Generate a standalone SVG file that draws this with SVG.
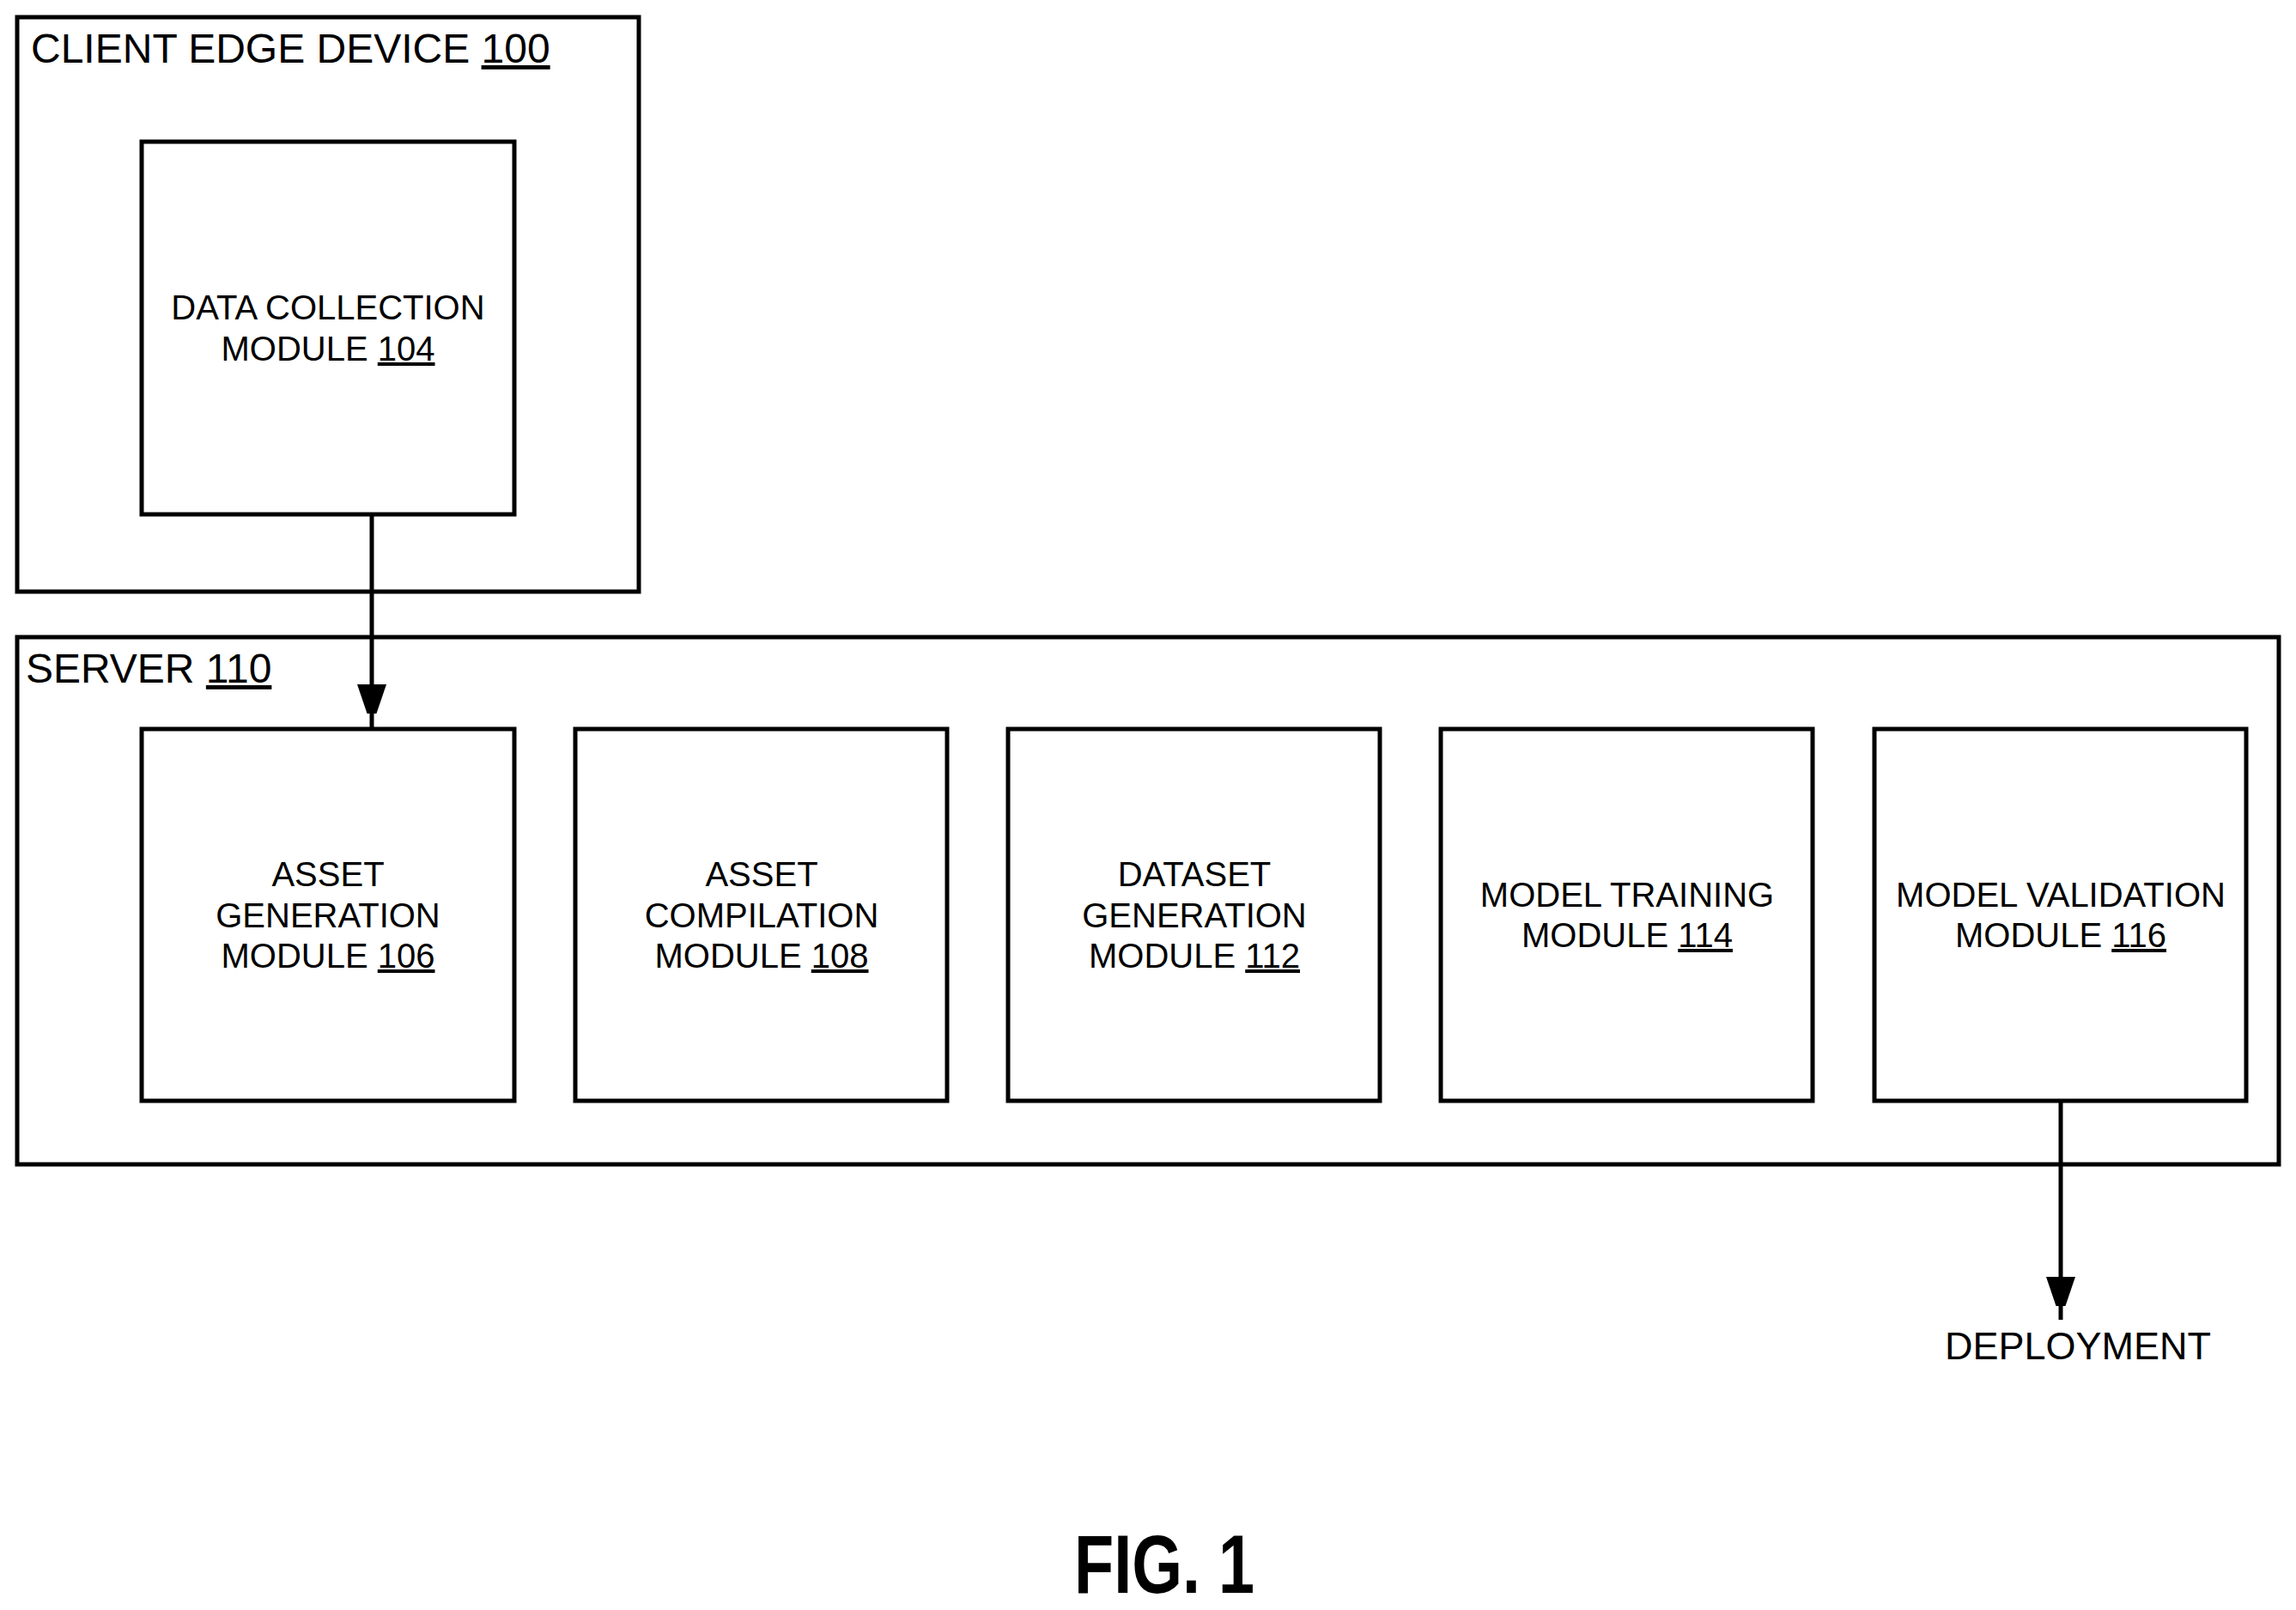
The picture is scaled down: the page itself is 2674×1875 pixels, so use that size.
<svg xmlns="http://www.w3.org/2000/svg" width="2674" height="1875" viewBox="0 0 2674 1875">
<style>
rect{fill:#fff;stroke:#000;stroke-width:5}
text{font-family:"Liberation Sans",Arial,sans-serif;fill:#000}
.m{font-size:40px;text-anchor:middle}
.t{font-size:48px}
.u{text-decoration:underline}
.c{stroke:#000;stroke-width:5;fill:none}
</style>
<defs>
<marker id="h" markerWidth="34" markerHeight="50" refX="50" refY="17" orient="auto" markerUnits="userSpaceOnUse"><path d="M0,0 L50,17 L0,34 Z" fill="#000"/></marker></defs>
<g id="client"><rect x="20" y="20" width="724" height="669"/><text class="t" x="36" y="73">CLIENT EDGE DEVICE <tspan class="u">100</tspan></text></g>
<g id="n104"><rect x="165" y="165" width="434" height="434"/><text class="m" x="382" y="372">DATA COLLECTION</text><text class="m" x="382" y="420">MODULE <tspan class="u">104</tspan></text></g>
<g id="server"><rect x="20" y="742" width="2634" height="614"/><text class="t" x="30" y="795">SERVER <tspan class="u">110</tspan></text></g>
<g id="n106"><rect x="165" y="849" width="434" height="433"/><text class="m" x="382" y="1032">ASSET</text><text class="m" x="382" y="1080">GENERATION</text><text class="m" x="382" y="1127">MODULE <tspan class="u">106</tspan></text></g>
<g id="n108"><rect x="670" y="849" width="433" height="433"/><text class="m" x="887" y="1032">ASSET</text><text class="m" x="887" y="1080">COMPILATION</text><text class="m" x="887" y="1127">MODULE <tspan class="u">108</tspan></text></g>
<g id="n112"><rect x="1174" y="849" width="433" height="433"/><text class="m" x="1391" y="1032">DATASET</text><text class="m" x="1391" y="1080">GENERATION</text><text class="m" x="1391" y="1127">MODULE <tspan class="u">112</tspan></text></g>
<g id="n114"><rect x="1678" y="849" width="433" height="433"/><text class="m" x="1895" y="1056">MODEL TRAINING</text><text class="m" x="1895" y="1103">MODULE <tspan class="u">114</tspan></text></g>
<g id="n116"><rect x="2183" y="849" width="433" height="433"/><text class="m" x="2400" y="1056">MODEL VALIDATION</text><text class="m" x="2400" y="1103">MODULE <tspan class="u">116</tspan></text></g>
<g id="connectors">
<path class="c" d="M433,599 V847" marker-end="url(#h)"/>
<path class="c" d="M2400,1282 V1537" marker-end="url(#h)"/>
</g>
<text class="m" x="2420" y="1583" style="font-size:45px">DEPLOYMENT</text>
<text x="1356" y="1855" style="font-size:96px;font-weight:bold;text-anchor:middle" textLength="210" lengthAdjust="spacingAndGlyphs">FIG. 1</text>
</svg>
